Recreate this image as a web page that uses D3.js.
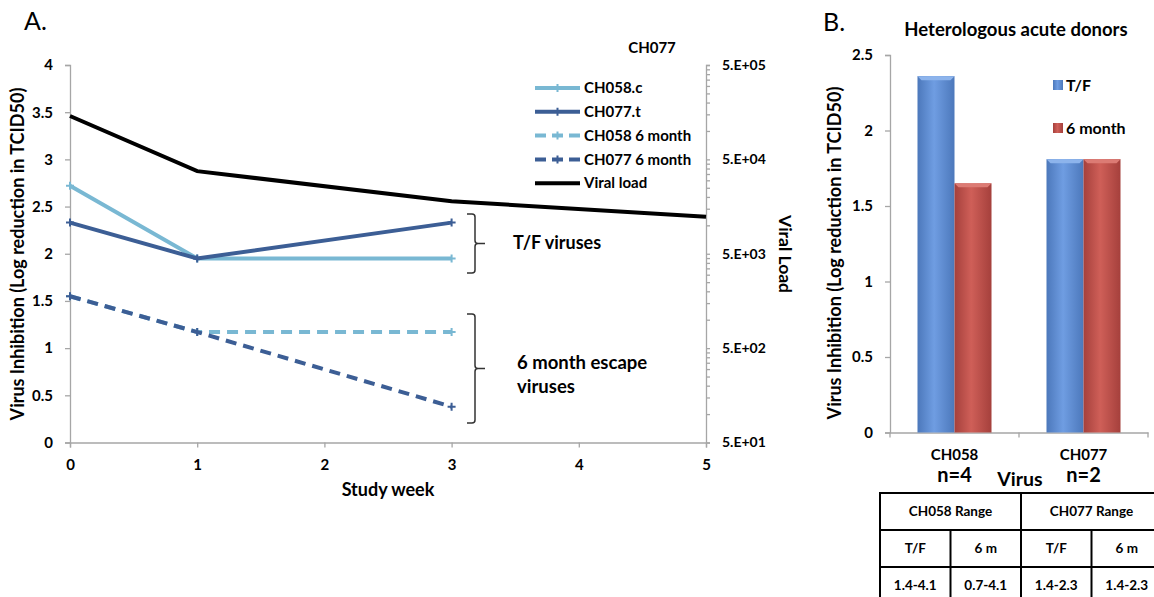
<!DOCTYPE html>
<html>
<head>
<meta charset="utf-8">
<script src="https://cdn.jsdelivr.net/npm/d3@7"></script>
<style>
  body { margin: 0; background: #fff; }
  text { font-family: Lato, "Open Sans", sans-serif; font-weight: bold; fill: #000; }
  .axis path, .axis line { stroke: #a6a6a6; stroke-width: 1.3; }
  .axis text { font-size: 15px; font-weight: bold; }
</style>
</head>
<body>
<div id="chart"></div>
<script>
// ---- data (panel A) ----
const weeks = [0, 1, 3];
const ch058c = [2.72, 1.95, 1.95];
const ch077t = [2.33, 1.95, 2.33];
const ch058m6 = [1.55, 1.17, 1.17];
const ch077m6 = [1.55, 1.17, 0.38];
const vlWeeks = [0, 1, 3, 5];
const viralLoad = [144000, 37500, 18000, 12300];
const leftTicks = [0, 0.5, 1, 1.5, 2, 2.5, 3, 3.5, 4];
const weekTicks = [0, 1, 2, 3, 4, 5];
const rightMajor = [50, 500, 5000, 50000, 500000];

// ---- data (panel B) ----
const barCats = ["CH058", "CH077"];
const barN = ["n=4", "n=2"];
const barSeries = ["T/F", "6 month"];
const tfVals = [2.36, 1.81];
const m6Vals = [1.65, 1.81];
const barTicks = [0, 0.5, 1, 1.5, 2, 2.5];
const tableHeads = ["CH058 Range", "CH077 Range"];
const tableSub = ["T/F", "6 m", "T/F", "6 m"];
const tableRanges = ["1.4-4.1", "0.7-4.1", "1.4-2.3", "1.4-2.3"];

const W = 1154, H = 597;
const lightBlue = "#79b8d3", darkBlue = "#3c5e95";

const svg = d3.select("#chart").append("svg")
  .attr("width", W).attr("height", H);

const defs = svg.append("defs");
function grad(id, edge, mid) {
  const g = defs.append("linearGradient").attr("id", id)
    .attr("x1", "0%").attr("x2", "100%").attr("y1", "0%").attr("y2", "0%");
  g.append("stop").attr("offset", "0%").attr("stop-color", edge);
  g.append("stop").attr("offset", "45%").attr("stop-color", mid);
  g.append("stop").attr("offset", "100%").attr("stop-color", edge);
}
grad("gBlue", "#4c78bb", "#6f9de2");
grad("gRed", "#a5403c", "#cf5f58");

// ================= Panel A =================
const x = d3.scaleLinear().domain([0, 5]).range([70, 706]);
const y = d3.scaleLinear().domain([0, 4]).range([442.5, 65]);
const yR = d3.scaleLog().domain([50, 500000]).range([442.5, 65]);

svg.append("text").attr("x", 24).attr("y", 30)
  .style("font-weight", "normal").style("font-size", "25px").text("A.");

svg.append("g").attr("class", "axis")
  .attr("transform", "translate(70,0)")
  .call(d3.axisLeft(y).tickValues(leftTicks).tickSize(5).tickPadding(12).tickFormat(d => d));

svg.append("g").attr("class", "axis")
  .attr("transform", "translate(0,442.5)")
  .call(d3.axisBottom(x).tickValues(weekTicks).tickSize(5).tickPadding(12).tickFormat(d => d));

// log minor ticks: multiples within each decade
const rightTicks = [];
rightMajor.forEach((m, i) => {
  if (i === rightMajor.length - 1) { rightTicks.push(m); return; }
  for (let k = 1; k < 10; k++) rightTicks.push(m * k);
});
svg.append("g").attr("class", "axis")
  .attr("transform", "translate(706,0)")
  .call(d3.axisRight(yR).tickValues(rightTicks).tickSize(4).tickPadding(12)
    .tickFormat(d => rightMajor.includes(d) ? "5.E+" + String(Math.round(Math.log10(d / 5))).padStart(2, "0") : ""))
  .call(g => g.selectAll("text").style("font-size", "14px"));

svg.append("text")
  .attr("transform", "translate(24,254) rotate(-90)")
  .attr("text-anchor", "middle").style("font-size", "18px")
  .text("Virus Inhibition (Log reduction in TCID50)");

svg.append("text").attr("x", 388).attr("y", 496)
  .attr("text-anchor", "middle").style("font-size", "18px").text("Study week");

svg.append("text")
  .attr("transform", "translate(779,254) rotate(90)")
  .attr("text-anchor", "middle").style("font-size", "17.5px").text("Viral Load");

svg.append("text").attr("x", 652).attr("y", 53)
  .attr("text-anchor", "middle").style("font-size", "15px").text("CH077");

const series = [
  { name: "CH058.c", vals: ch058c, color: lightBlue, dash: null },
  { name: "CH077.t", vals: ch077t, color: darkBlue, dash: null },
  { name: "CH058 6 month", vals: ch058m6, color: lightBlue, dash: "11,7" },
  { name: "CH077 6 month", vals: ch077m6, color: darkBlue, dash: "11,7" }
];

const line = d3.line().x(d => x(d[0])).y(d => y(d[1]));
const plus = "M-4,0H4M0,-4V4";

series.forEach(s => {
  const pts = weeks.map((w, i) => [w, s.vals[i]]);
  svg.append("path").datum(pts)
    .attr("d", line).attr("fill", "none")
    .attr("stroke", s.color).attr("stroke-width", 4)
    .attr("stroke-dasharray", s.dash);
  svg.selectAll(null).data(pts).enter().append("path")
    .attr("transform", d => `translate(${x(d[0])},${y(d[1])})`)
    .attr("d", plus).attr("stroke", s.color).attr("stroke-width", 2);
});

const vlLine = d3.line().x(d => x(d[0])).y(d => yR(d[1]));
svg.append("path").datum(vlWeeks.map((w, i) => [w, viralLoad[i]]))
  .attr("d", vlLine).attr("fill", "none")
  .attr("stroke", "#000").attr("stroke-width", 4);

// legend
const legend = [...series, { name: "Viral load", color: "#000", dash: null, noMark: true }];
const lg = svg.append("g");
legend.forEach((s, i) => {
  const ly = 88 + i * 23.8;
  lg.append("line").attr("x1", 535).attr("x2", 580).attr("y1", ly).attr("y2", ly)
    .attr("stroke", s.color).attr("stroke-width", 4)
    .attr("stroke-dasharray", s.dash ? "11,6" : null);
  if (!s.noMark) {
    lg.append("path").attr("transform", `translate(557.5,${ly})`)
      .attr("d", plus).attr("stroke", s.color).attr("stroke-width", 2);
  }
  lg.append("text").attr("x", 584).attr("y", ly).attr("dy", "0.35em")
    .style("font-size", "15px").text(s.name);
});

// braces
function brace(x0, y0, y1) {
  const ym = (y0 + y1) / 2, r = 3;
  const p = `M${x0},${y0} H${x0 + 5} Q${x0 + 8},${y0} ${x0 + 8},${y0 + r}
    V${ym - r} Q${x0 + 8},${ym} ${x0 + 11},${ym} H${x0 + 18}
    M${x0 + 11},${ym} Q${x0 + 8},${ym} ${x0 + 8},${ym + r}
    V${y1 - r} Q${x0 + 8},${y1} ${x0 + 5},${y1} H${x0}`;
  svg.append("path").attr("d", p).attr("fill", "none")
    .attr("stroke", "#333").attr("stroke-width", 1.5);
}
brace(467, 214, 273);
brace(467, 314, 423);

svg.append("text").attr("x", 513).attr("y", 243).attr("dy", "0.35em")
  .style("font-size", "18px").text("T/F viruses");
svg.append("text").attr("x", 517).attr("y", 363).attr("dy", "0.35em")
  .style("font-size", "18.5px").text("6 month escape");
svg.append("text").attr("x", 517).attr("y", 387).attr("dy", "0.35em")
  .style("font-size", "18.5px").text("viruses");

// ================= Panel B =================
const xb = d3.scaleBand().domain(barCats).range([890, 1148]);
const xi = d3.scaleBand().domain(barSeries).range([0, xb.bandwidth()]).paddingOuter(0.743);
const yb = d3.scaleLinear().domain([0, 2.5]).range([432.5, 55]);

svg.append("text").attr("x", 823).attr("y", 31)
  .style("font-weight", "normal").style("font-size", "25px").text("B.");

svg.append("text").attr("x", 1016).attr("y", 36)
  .attr("text-anchor", "middle").style("font-size", "18.5px").text("Heterologous acute donors");

svg.append("g").attr("class", "axis")
  .attr("transform", "translate(890,0)")
  .call(d3.axisLeft(yb).tickValues(barTicks).tickSize(5).tickPadding(12).tickFormat(d => d));

const xAxisB = svg.append("g").attr("class", "axis")
  .attr("transform", "translate(0,432.5)")
  .call(d3.axisBottom(xb).tickSize(0).tickFormat(""));
xAxisB.selectAll(".edge")
  .data(barCats.map(c => xb(c)).concat(xb.range()[1]))
  .enter().append("line").attr("class", "edge")
  .attr("x1", d => d).attr("x2", d => d).attr("y1", 0).attr("y2", 5);

const barData = [];
barCats.forEach((c, i) => {
  barData.push({ cat: c, s: "T/F", v: tfVals[i], fill: "url(#gBlue)", top: "#8db4ec" });
  barData.push({ cat: c, s: "6 month", v: m6Vals[i], fill: "url(#gRed)", top: "#dc7b74" });
});

const bars = svg.selectAll(".bar").data(barData).enter().append("g").attr("class", "bar");
bars.append("rect")
  .attr("x", d => xb(d.cat) + xi(d.s)).attr("width", xi.bandwidth())
  .attr("y", d => yb(d.v)).attr("height", d => yb(0) - yb(d.v))
  .attr("fill", d => d.fill);
bars.append("path")
  .attr("d", d => {
    const x0 = xb(d.cat) + xi(d.s), x1 = x0 + xi.bandwidth(), y0 = yb(d.v);
    return `M${x0},${y0} H${x1} L${x1 - 4},${y0 + 4} H${x0 + 4} Z`;
  })
  .attr("fill", d => d.top);

// bar legend
const blg = svg.append("g");
barSeries.forEach((s, i) => {
  const ly = 85 + i * 43;
  blg.append("rect").attr("x", 1053).attr("y", ly - 5).attr("width", 10).attr("height", 10)
    .attr("fill", i === 0 ? "url(#gBlue)" : "url(#gRed)");
  blg.append("text").attr("x", 1066).attr("y", ly).attr("dy", "0.35em")
    .style("font-size", "16px").text(s);
});

// category labels
barCats.forEach((c, i) => {
  const cx = xb(c) + xb.bandwidth() / 2;
  svg.append("text").attr("x", cx).attr("y", 455).attr("dy", "0.35em")
    .attr("text-anchor", "middle").style("font-size", "15px").text(c);
  svg.append("text").attr("x", cx).attr("y", 475).attr("dy", "0.35em")
    .attr("text-anchor", "middle").style("font-size", "20px").text(barN[i]);
});
svg.append("text").attr("x", 1020).attr("y", 479).attr("dy", "0.35em")
  .attr("text-anchor", "middle").style("font-size", "19.5px").text("Virus");

svg.append("text")
  .attr("transform", "translate(841,253) rotate(-90)")
  .attr("text-anchor", "middle").style("font-size", "18px")
  .text("Virus Inhibition (Log reduction in TCID50)");

// range table
const tx = d3.scaleBand().domain(d3.range(4)).range([880, 1162]);
const rowY = [493, 530, 567, 604];
const tb = svg.append("g").attr("fill", "none").attr("stroke", "#000").attr("stroke-width", 2);
tb.append("rect").attr("x", 880).attr("y", rowY[0]).attr("width", 282).attr("height", rowY[3] - rowY[0])
  .attr("fill", "none");
[rowY[1], rowY[2]].forEach(ry => tb.append("line").attr("x1", 880).attr("x2", 1162).attr("y1", ry).attr("y2", ry));
tb.append("line").attr("x1", tx(2)).attr("x2", tx(2)).attr("y1", rowY[0]).attr("y2", rowY[3]);
[1, 3].forEach(c => tb.append("line").attr("x1", tx(c)).attr("x2", tx(c)).attr("y1", rowY[1]).attr("y2", rowY[3]));

tableHeads.forEach((h, i) => {
  svg.append("text").attr("x", tx(i * 2) + tx.bandwidth()).attr("y", (rowY[0] + rowY[1]) / 2)
    .attr("dy", "0.35em").attr("text-anchor", "middle").style("font-size", "13.5px").text(h);
});
tableSub.forEach((t, i) => {
  svg.append("text").attr("x", tx(i) + tx.bandwidth() / 2).attr("y", (rowY[1] + rowY[2]) / 2)
    .attr("dy", "0.35em").attr("text-anchor", "middle").style("font-size", "13.5px").text(t);
});
tableRanges.forEach((t, i) => {
  svg.append("text").attr("x", tx(i) + tx.bandwidth() / 2).attr("y", (rowY[2] + rowY[3]) / 2)
    .attr("dy", "0.35em").attr("text-anchor", "middle").style("font-size", "13.5px").text(t);
});
</script>
</body>
</html>
